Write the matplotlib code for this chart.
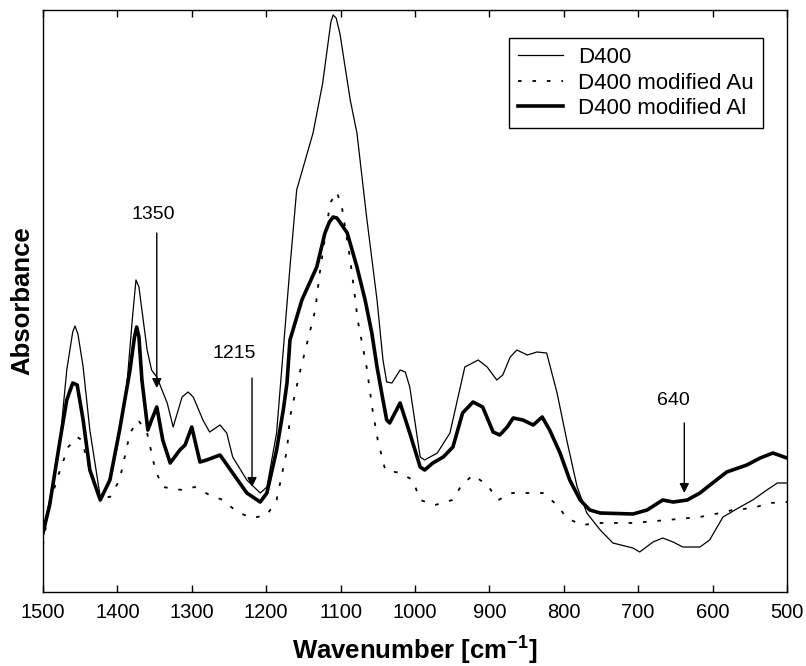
import matplotlib
matplotlib.use('Agg')
import matplotlib.pyplot as plt

# FTIR spectra, absorbance in arbitrary units
wn_d400 = [1500, 1491, 1477, 1468, 1460, 1457, 1453, 1446, 1437, 1423, 1413, 1401, 1387, 1380,
           1375, 1371, 1367, 1360, 1354, 1347, 1333, 1325, 1313, 1305, 1298, 1285, 1276, 1262,
           1253, 1245, 1226, 1208, 1199, 1186, 1177, 1168, 1159, 1137, 1124, 1117, 1113, 1110,
           1106, 1101, 1087, 1078, 1065, 1051, 1043, 1038, 1031, 1020, 1013, 1007, 993, 987,
           970, 953, 933, 915, 903, 890, 882, 872, 863, 849, 836, 823, 809, 796, 782, 769, 751,
           734, 707, 698, 680, 667, 653, 640, 617, 604, 586, 563, 546, 527, 513, 500]
abs_d400 = [0.060, 0.092, 0.152, 0.222, 0.260, 0.266, 0.258, 0.225, 0.162, 0.095, 0.107, 0.142,
            0.209, 0.272, 0.312, 0.305, 0.282, 0.242, 0.222, 0.215, 0.189, 0.165, 0.195, 0.200,
            0.195, 0.172, 0.160, 0.167, 0.159, 0.135, 0.112, 0.099, 0.105, 0.159, 0.242, 0.325,
            0.402, 0.459, 0.509, 0.548, 0.570, 0.577, 0.574, 0.559, 0.492, 0.459, 0.375, 0.292,
            0.232, 0.210, 0.209, 0.222, 0.220, 0.205, 0.135, 0.132, 0.139, 0.159, 0.225, 0.232,
            0.225, 0.212, 0.217, 0.235, 0.242, 0.237, 0.240, 0.239, 0.199, 0.152, 0.105, 0.079,
            0.062, 0.049, 0.044, 0.040, 0.050, 0.054, 0.050, 0.045, 0.045, 0.052, 0.075, 0.085,
            0.092, 0.102, 0.109, 0.109]

wn_au = [1500, 1491, 1477, 1466, 1454, 1448, 1437, 1423, 1410, 1397, 1383, 1372, 1360, 1349,
         1339, 1313, 1296, 1276, 1258, 1239, 1219, 1199, 1186, 1172, 1168, 1155, 1145, 1134,
         1128, 1114, 1105, 1098, 1087, 1081, 1077, 1065, 1057, 1050, 1040, 1020, 1003, 993,
         973, 950, 937, 922, 903, 888, 869, 849, 828, 809, 796, 776, 751, 707, 661, 617, 590,
         573, 546, 523, 500]
abs_au = [0.047, 0.089, 0.122, 0.145, 0.155, 0.152, 0.122, 0.095, 0.095, 0.112, 0.159, 0.172,
          0.159, 0.122, 0.105, 0.102, 0.105, 0.097, 0.092, 0.080, 0.074, 0.077, 0.092, 0.142,
          0.175, 0.219, 0.249, 0.282, 0.319, 0.389, 0.400, 0.384, 0.332, 0.297, 0.272, 0.225,
          0.182, 0.152, 0.122, 0.119, 0.112, 0.092, 0.087, 0.092, 0.107, 0.117, 0.107, 0.092,
          0.099, 0.099, 0.099, 0.087, 0.074, 0.067, 0.069, 0.069, 0.072, 0.075, 0.079, 0.082,
          0.084, 0.089, 0.090]

wn_al = [1500, 1491, 1477, 1468, 1460, 1454, 1446, 1437, 1423, 1410, 1397, 1383, 1377, 1374,
         1371, 1367, 1359, 1354, 1347, 1339, 1329, 1316, 1309, 1300, 1289, 1280, 1262, 1245,
         1226, 1208, 1199, 1186, 1177, 1172, 1168, 1152, 1132, 1121, 1115, 1110, 1105, 1101,
         1091, 1078, 1067, 1058, 1051, 1043, 1038, 1034, 1020, 1007, 993, 987, 976, 962, 949,
         936, 922, 909, 895, 886, 876, 868, 855, 841, 829, 819, 805, 792, 778, 765, 751, 707,
         688, 667, 653, 634, 617, 600, 581, 554, 536, 519, 500]
abs_al = [0.059, 0.087, 0.152, 0.192, 0.209, 0.207, 0.172, 0.122, 0.092, 0.112, 0.162, 0.222,
          0.255, 0.265, 0.255, 0.212, 0.162, 0.172, 0.185, 0.152, 0.129, 0.142, 0.147, 0.165,
          0.130, 0.132, 0.137, 0.119, 0.099, 0.090, 0.099, 0.142, 0.182, 0.209, 0.252, 0.292,
          0.325, 0.359, 0.370, 0.375, 0.374, 0.370, 0.359, 0.325, 0.292, 0.259, 0.225, 0.192,
          0.172, 0.169, 0.189, 0.159, 0.125, 0.122, 0.129, 0.135, 0.145, 0.179, 0.190, 0.185,
          0.160, 0.157, 0.165, 0.174, 0.172, 0.167, 0.175, 0.162, 0.139, 0.112, 0.092, 0.082,
          0.079, 0.078, 0.082, 0.092, 0.090, 0.092, 0.099, 0.109, 0.120, 0.127, 0.134, 0.139,
          0.134]

labels = ['D400', 'D400 modified Au', 'D400 modified Al']

# marked bands: label, band position, arrow top, arrow tip
bands = ['1350', '1215', '640']
band_wn = [1347, 1219, 638]
arrow_top = [0.359, 0.214, 0.169]
arrow_tip = [0.204, 0.105, 0.099]
text_pos = [(1352, 0.377), (1243, 0.239), (653, 0.192)]

plt.rcParams['font.family'] = ['Liberation Sans', 'DejaVu Sans']

fig = plt.figure(figsize=(8.06, 6.66), dpi=100)
ax = fig.add_axes([0.0533, 0.1111, 0.9231, 0.8739])

ax.plot(wn_d400, abs_d400, color='black', lw=0.9, label=labels[0])
ax.plot(wn_au, abs_au, color='black', lw=1.3, linestyle=(0, (2, 6)), label=labels[1])
ax.plot(wn_al, abs_al, color='black', lw=2.6, label=labels[2])

for lab, w, top, tip, pos in zip(bands, band_wn, arrow_top, arrow_tip, text_pos):
    ax.annotate('', xy=(w, tip), xytext=(w, top),
                arrowprops=dict(arrowstyle='-|>', color='black', lw=1.0,
                                mutation_scale=14, shrinkA=0, shrinkB=0))
    ax.text(pos[0], pos[1], lab, ha='center', va='center', fontsize=14)

ax.set_xlim(1500, 500)
ax.set_ylim(0, 0.582)
ax.set_xticks([1500, 1400, 1300, 1200, 1100, 1000, 900, 800, 700, 600, 500])
ax.set_yticks([])
ax.tick_params(axis='x', direction='in', top=True, length=5, width=1,
               labelsize=14.5, pad=8)
for s in ax.spines.values():
    s.set_linewidth(1.0)

ax.set_xlabel('Wavenumber [cm$^{\\mathregular{-1}}$]', fontsize=18.5,
              fontweight='bold', labelpad=8)
ax.set_ylabel('Absorbance', fontsize=18.5, fontweight='bold', labelpad=6)

leg = ax.legend(loc='upper right', bbox_to_anchor=(0.968, 0.952), fontsize=16,
                frameon=True, fancybox=False, edgecolor='black', framealpha=1,
                handlelength=2.0, handletextpad=0.7, labelspacing=0.2,
                borderpad=0.42, borderaxespad=0)
leg.get_frame().set_linewidth(1.0)

fig.savefig('out.png', dpi=100)
plt.close()
